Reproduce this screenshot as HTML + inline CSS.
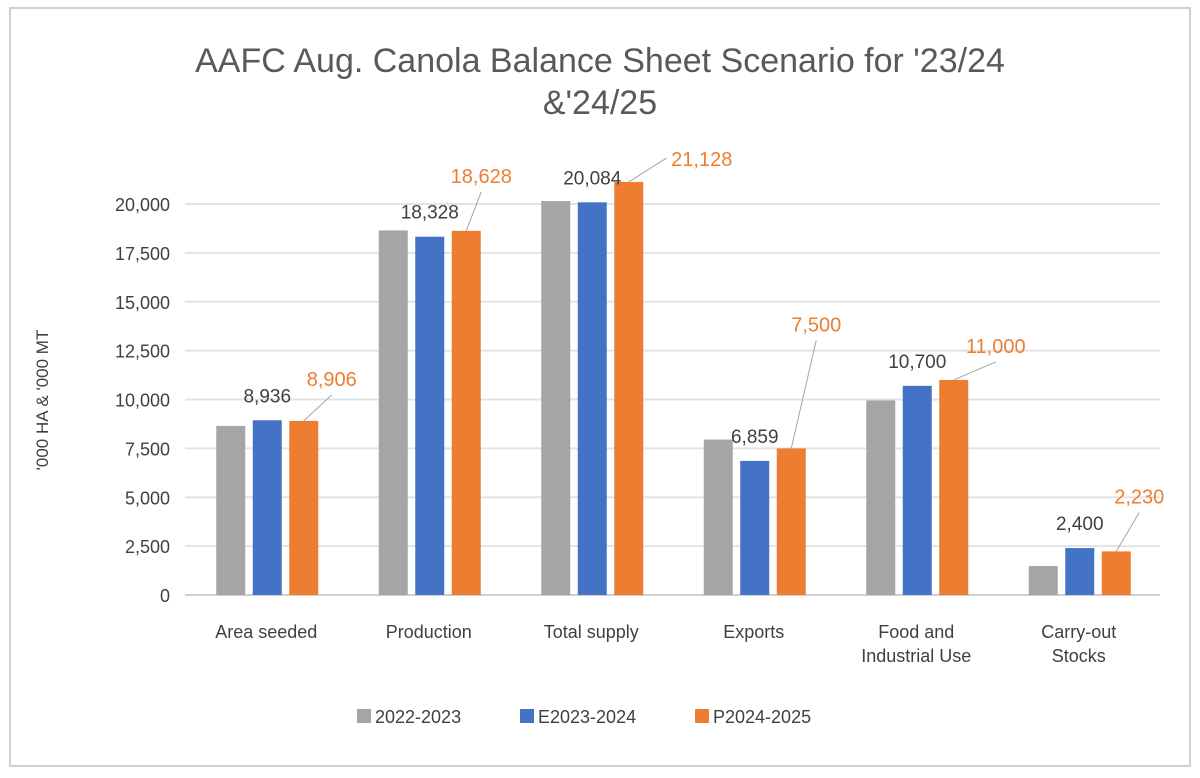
<!DOCTYPE html>
<html><head><meta charset="utf-8"><style>
body{margin:0;background:#fff;}
svg text{font-family:"Liberation Sans",sans-serif;}
</style></head><body>
<svg width="1200" height="773" viewBox="0 0 1200 773">
<rect x="10" y="8" width="1180" height="758" fill="#fff" stroke="#d0d0d0" stroke-width="2"/>
<text x="600" y="72" text-anchor="middle" font-size="34" fill="#595959">AAFC Aug. Canola Balance Sheet Scenario for '23/24</text>
<text x="600" y="114" text-anchor="middle" font-size="34" fill="#595959">&amp;'24/25</text>
<text transform="translate(48,400) rotate(-90)" text-anchor="middle" font-size="17" fill="#404040">'000 HA &amp; '000 MT</text>
<g id="grid"></g><g id="bars"></g><g id="labels"></g>
<g>
<rect x="357" y="709" width="14" height="14" fill="#a5a5a5"/>
<text x="375" y="723" font-size="18" fill="#404040">2022-2023</text>
<rect x="520" y="709" width="14" height="14" fill="#4472c4"/>
<text x="538" y="723" font-size="18" fill="#404040">E2023-2024</text>
<rect x="695" y="709" width="14" height="14" fill="#ed7d31"/>
<text x="713" y="723" font-size="18" fill="#404040">P2024-2025</text>
</g>
</svg>
<script>
const categories=[["Area seeded"],["Production"],["Total supply"],["Exports"],["Food and","Industrial Use"],["Carry-out","Stocks"]];
const s2022=[8650,18650,20150,7950,9950,1480];
const s2023=[8936,18328,20084,6859,10700,2400];
const s2024=[8906,18628,21128,7500,11000,2230];
const labels2023=["8,936","18,328","20,084","6,859","10,700","2,400"];
const labels2024=["8,906","18,628","21,128","7,500","11,000","2,230"];
const yTicks=[0,2500,5000,7500,10000,12500,15000,17500,20000];
const yTickLabels=["0","2,500","5,000","7,500","10,000","12,500","15,000","17,500","20,000"];
// label placement offsets (layout, in px)
const offX=[28,15,73,25,42,23];
const offY=[-35,-48,-16,-117,-27,-48];
const NS="http://www.w3.org/2000/svg";
const y0=595,yTop=204,yMax=20000,x0=185,x1=1160;
const step=(x1-x0)/categories.length;
function yS(v){return y0-(v/yMax)*(y0-yTop);}
function xC(i){return x0+step*(i+0.5);}
function mk(t,a,p){const e=document.createElementNS(NS,t);for(const k in a)e.setAttribute(k,a[k]);p.appendChild(e);return e;}
const grid=document.getElementById('grid'),bars=document.getElementById('bars'),lab=document.getElementById('labels');
yTicks.forEach((t,i)=>{
 const l=mk('line',{x1:x0,x2:x1,y1:yS(t),y2:yS(t),stroke:i==0?'#cfcfcf':'#e3e3e3','stroke-width':2},grid);
 
 
 const tx=mk('text',{x:170,y:yS(t)+7,'text-anchor':'end','font-size':18,fill:'#404040'},grid);
 tx.textContent=yTickLabels[i];
 
 
});
const series=[[s2022,'#a5a5a5','2022'],[s2023,'#4472c4','e2023'],[s2024,'#ed7d31','p2024']];
categories.forEach((c,i)=>{
 const cx=xC(i);
 series.forEach((s,j)=>{
  const bx=cx-50+j*36.5;
  const r=mk('rect',{x:bx,y:yS(s[0][i]),width:29,height:y0-yS(s[0][i]),fill:s[1]},bars);
  
  
 });
 const t=mk('text',{x:cx,y:y0+43,'text-anchor':'middle','font-size':18,fill:'#404040'},lab);
 
 
 c.forEach((ln,k)=>{const ts=mk('tspan',{x:cx,dy:k?24:0},t);ts.textContent=ln;});
 const bl=mk('text',{x:cx+1,y:yS(s2023[i])-18,'text-anchor':'middle','font-size':19,fill:'#404040'},lab);
 bl.textContent=labels2023[i];
 
 
 const ox=cx+37.5,oy=yS(s2024[i]);
 const lx=ox+offX[i],ly=oy+offY[i];
 const ll=mk('line',{x1:ox,y1:oy,x2:lx-(i==2?35:0),y2:ly+(i==2?-8:9),stroke:'#a5a5a5','stroke-width':1},lab);
 
 
 const ol=mk('text',{x:lx,y:ly,'text-anchor':'middle','font-size':20,fill:'#ed7d31'},lab);
 ol.textContent=labels2024[i];
 
 
});
</script>
</body></html>
